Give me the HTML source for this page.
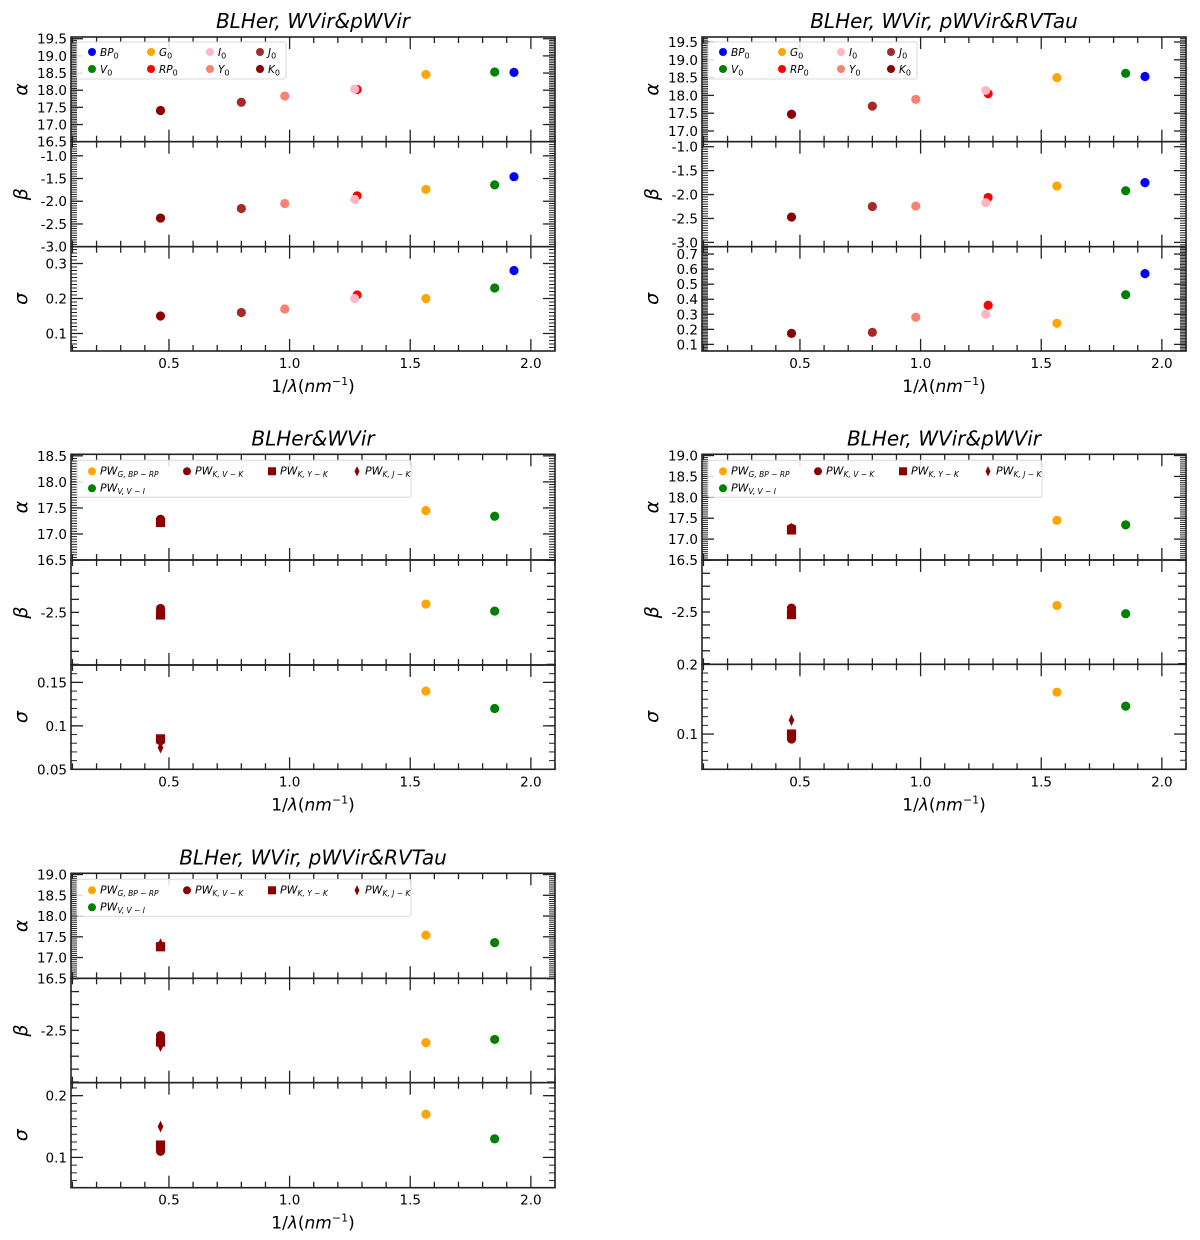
<!DOCTYPE html>
<html><head><meta charset="utf-8"><title>Fit coefficients vs inverse wavelength</title>
<style>
html,body{margin:0;padding:0;background:#fff;}
svg{display:block;font-family:"DejaVu Sans","Liberation Sans",sans-serif;}
</style></head>
<body>
<svg id="fig" width="1200" height="1240" viewBox="0 0 1200 1240" xmlns="http://www.w3.org/2000/svg"></svg>
<script>
// ---------- DATA ----------
// Panels 1 & 2: band names
const bandNames = ['BP0','V0','G0','RP0','I0','Y0','J0','K0'];
const bandX = [1.93, 1.85, 1.565, 1.28, 1.27, 0.98, 0.80, 0.465];
// Panel 1: BLHer, WVir & pWVir
const p1Alpha = [18.52, 18.53, 18.46, 18.02, 18.03, 17.83, 17.65, 17.41];
const p1Beta  = [-1.46, -1.64, -1.74, -1.88, -1.96, -2.05, -2.16, -2.37];
const p1Sigma = [0.28, 0.23, 0.20, 0.21, 0.20, 0.17, 0.16, 0.15];
// Panel 2: BLHer, WVir, pWVir & RVTau
const p2Alpha = [18.53, 18.62, 18.50, 18.05, 18.14, 17.89, 17.70, 17.47];
const p2Beta  = [-1.75, -1.92, -1.82, -2.06, -2.17, -2.24, -2.25, -2.47];
const p2Sigma = [0.57, 0.43, 0.24, 0.36, 0.30, 0.28, 0.18, 0.173];
// Panels 3-5: Wesenheit relations
const pwNames = ['PW_G,BP-RP','PW_K,V-K','PW_K,Y-K','PW_K,J-K','PW_V,V-I'];
const pwX = [1.565, 0.465, 0.465, 0.465, 1.85];
// Panel 3: BLHer & WVir
const p3Alpha = [17.45, 17.28, 17.22, 17.26, 17.34];
const p3Beta  = [-2.436, -2.47, -2.52, -2.50, -2.49];
const p3Sigma = [0.14, 0.083, 0.085, 0.075, 0.12];
// Panel 4: BLHer, WVir & pWVir
const p4Alpha = [17.45, 17.26, 17.22, 17.25, 17.34];
const p4Beta  = [-2.449, -2.47, -2.52, -2.51, -2.513];
const p4Sigma = [0.16, 0.093, 0.10, 0.12, 0.14];
// Panel 5: BLHer, WVir, pWVir & RVTau
const p5Alpha = [17.54, 17.28, 17.26, 17.32, 17.36];
const p5Beta  = [-2.595, -2.54, -2.59, -2.62, -2.57];
const p5Sigma = [0.17, 0.11, 0.12, 0.15, 0.13];
// Tick values / labels
const xTicks = [0.5, 1.0, 1.5, 2.0];
const xTickLabels = ['0.5','1.0','1.5','2.0'];
const aTicks1 = [16.5,17.0,17.5,18.0,18.5,19.0,19.5];
const aTicks1Labels = ['16.5','17.0','17.5','18.0','18.5','19.0','19.5'];
const bTicks1 = [-3.0,-2.5,-2.0,-1.5,-1.0];
const bTicks1Labels = ['-3.0','-2.5','-2.0','-1.5','-1.0'];
const sTicks1 = [0.1,0.2,0.3];
const sTicks1Labels = ['0.1','0.2','0.3'];
const sTicks2 = [0.1,0.2,0.3,0.4,0.5,0.6,0.7];
const sTicks2Labels = ['0.1','0.2','0.3','0.4','0.5','0.6','0.7'];
const aTicks3 = [16.5,17.0,17.5,18.0,18.5];
const aTicks3Labels = ['16.5','17.0','17.5','18.0','18.5'];
const aTicks4 = [16.5,17.0,17.5,18.0,18.5,19.0];
const aTicks4Labels = ['16.5','17.0','17.5','18.0','18.5','19.0'];
const bTicksPW = [-2.9,-2.8,-2.7,-2.6,-2.5,-2.4,-2.3,-2.2,-2.1];
const bTicksPWLabels = ['','','','','-2.5','','','',''];
const sTicks3 = [0.05,0.1,0.15];
const sTicks3Labels = ['0.05','0.1','0.15'];
const sTicks4 = [0.1,0.2];
const sTicks4Labels = ['0.1','0.2'];

// ---------- STYLE / LAYOUT ----------
const bandColors = ['#0000ff','#008000','#ffa500','#ff0000','#ffb6c1','#fa8072','#a52a2a','#8b0000'];
const bandOrderDraw = [7,6,5,3,4,2,1,0];
const pwColors = ['#ffa500','#8b0000','#8b0000','#8b0000','#008000'];
const pwMarkers = ['circle','circle','square','diamond','circle'];
const NS = 'http://www.w3.org/2000/svg';
const svg = document.getElementById('fig');
function mk(tag, attrs, parent){
  const e = document.createElementNS(NS, tag);
  for (const k in attrs) e.setAttribute(k, attrs[k]);
  (parent||svg).appendChild(e);
  return e;
}
const panels = [
  {title:'BLHer, WVir&pWVir', left:71, right:555, top:37, b1:141.7, b2:246.7, bottom:351, kind:'band',
   A:p1Alpha, B:p1Beta, S:p1Sigma,
   subs:[{lim:[16.5,19.55], t:aTicks1, l:aTicks1Labels, minor:0.05, name:'alpha'},
         {lim:[-3.0,-0.69], t:bTicks1, l:bTicks1Labels, minor:0.05, name:'beta'},
         {lim:[0.05,0.348], t:sTicks1, l:sTicks1Labels, minor:0.01, name:'sigma'}]},
  {title:'BLHer, WVir, pWVir&RVTau', left:702, right:1186, top:37, b1:141.7, b2:246.7, bottom:351, kind:'band',
   A:p2Alpha, B:p2Beta, S:p2Sigma,
   subs:[{lim:[16.70,19.64], t:aTicks1, l:aTicks1Labels, minor:0.05, name:'alpha'},
         {lim:[-3.09,-0.895], t:bTicks1, l:bTicks1Labels, minor:0.05, name:'beta'},
         {lim:[0.056,0.749], t:sTicks2, l:sTicks2Labels, minor:0.01, name:'sigma'}]},
  {title:'BLHer&WVir', left:71, right:555, top:454.3, b1:560, b2:665, bottom:769.3, kind:'pw',
   A:p3Alpha, B:p3Beta, S:p3Sigma,
   subs:[{lim:[16.5,18.53], t:aTicks3, l:aTicks3Labels, minor:0.05, name:'alpha'},
         {lim:[-2.905,-2.097], t:bTicksPW, l:bTicksPWLabels, minor:0, name:'beta'},
         {lim:[0.05,0.17], t:sTicks3, l:sTicks3Labels, minor:0.01, name:'sigma'}]},
  {title:'BLHer, WVir&pWVir', left:702, right:1186, top:454.3, b1:560, b2:664.3, bottom:769.3, kind:'pw',
   A:p4Alpha, B:p4Beta, S:p4Sigma,
   subs:[{lim:[16.5,19.03], t:aTicks4, l:aTicks4Labels, minor:0.05, name:'alpha'},
         {lim:[-2.905,-2.097], t:bTicksPW, l:bTicksPWLabels, minor:0, name:'beta'},
         {lim:[0.0495,0.2], t:sTicks4, l:sTicks4Labels, minor:0.0125, name:'sigma'}]},
  {title:'BLHer, WVir, pWVir&RVTau', left:71, right:555, top:873.3, b1:978.3, b2:1082.7, bottom:1187.7, kind:'pw',
   A:p5Alpha, B:p5Beta, S:p5Sigma,
   subs:[{lim:[16.5,19.03], t:aTicks4, l:aTicks4Labels, minor:0.05, name:'alpha'},
         {lim:[-2.905,-2.097], t:bTicksPW, l:bTicksPWLabels, minor:0, name:'beta'},
         {lim:[0.051,0.221], t:sTicks4, l:sTicks4Labels, minor:0.0125, name:'sigma'}]}
];
const XMIN = 0.094, XMAX = 2.1;
const greek = {alpha:'α', beta:'β', sigma:'σ'};

function drawMarker(g, type, cx, cy, color, r){
  let e;
  if (type === 'circle') e = mk('circle', {cx:cx, cy:cy, r:r, fill:color}, g);
  else if (type === 'square') e = mk('rect', {x:cx-r, y:cy-r, width:2*r, height:2*r, fill:color}, g);
  else e = mk('polygon', {points:`${cx},${cy-r*1.3} ${cx+r*0.62},${cy} ${cx},${cy+r*1.3} ${cx-r*0.62},${cy}`, fill:color}, g);
  return e;
}

panels.forEach((P, pi) => {
  const pg = mk('g', {});
  
  
  const xs = v => P.left + (v - XMIN) / (XMAX - XMIN) * (P.right - P.left);
  const cx = (P.left + P.right) / 2;
  const title = mk('text', {x:cx, y:P.top - 9, 'text-anchor':'middle', 'font-size':20, 'font-style':'italic', fill:'#000'}, pg);
  title.textContent = P.title;
  
  
  const bounds = [[P.top, P.b1], [P.b1, P.b2], [P.b2, P.bottom]];
  const vals = [P.A, P.B, P.S];
  P.subs.forEach((S, si) => {
    const [t, b] = bounds[si];
    const ys = v => b - (v - S.lim[0]) / (S.lim[1] - S.lim[0]) * (b - t);
    const sg = mk('g', {}, pg);
    
    
    // x ticks (top and bottom, inward)
    for (let k = 1; k <= 21; k++) {
      const v = k / 10;
      if (v < XMIN || v > XMAX) continue;
      const major = Math.abs(v*2 - Math.round(v*2)) < 1e-6;
      const len = major ? 12 : 6;
      const x = xs(v);
      mk('line', {x1:x, x2:x, y1:b, y2:b-len, stroke:'#222', 'stroke-width':1.3}, sg);
      mk('line', {x1:x, x2:x, y1:t, y2:t+len, stroke:'#222', 'stroke-width':1.3}, sg);
    }
    // y minor ticks
    if (S.minor > 0) {
      const n0 = Math.ceil(S.lim[0] / S.minor - 1e-6), n1 = Math.floor(S.lim[1] / S.minor + 1e-6);
      for (let k = n0; k <= n1; k++) {
        const y = ys(k * S.minor);
        mk('line', {x1:P.left, x2:P.left+6, y1:y, y2:y, stroke:'#222', 'stroke-width':1}, sg);
        mk('line', {x1:P.right, x2:P.right-6, y1:y, y2:y, stroke:'#222', 'stroke-width':1}, sg);
      }
    }
    // y major ticks and labels
    S.t.forEach((v, k) => {
      const y = ys(v);
      if (y < t - 0.5 || y > b + 0.5) return;
      const len = S.minor > 0 ? 12 : 8;
      mk('line', {x1:P.left, x2:P.left+len, y1:y, y2:y, stroke:'#222', 'stroke-width':1.3}, sg);
      mk('line', {x1:P.right, x2:P.right-len, y1:y, y2:y, stroke:'#222', 'stroke-width':1.3}, sg);
      if (S.l[k]) {
        const lab = mk('text', {x:P.left-4, y:y+5, 'text-anchor':'end', 'font-size':13.5, fill:'#000'}, sg);
        lab.textContent = S.l[k];
        
        
      }
    });
    // frame
    const fr = mk('rect', {x:P.left, y:t, width:P.right-P.left, height:b-t, fill:'none', stroke:'#222', 'stroke-width':1.6}, sg);
    
    
    // y label
    const yl = mk('text', {x:0, y:0, 'text-anchor':'middle', 'font-size':19, 'font-style':'italic', fill:'#000',
      transform:`translate(${P.left-44},${(t+b)/2}) rotate(-90)`}, sg);
    yl.textContent = greek[S.name];
    
    
    // points
    const arr = vals[si];
    if (P.kind === 'band') {
      bandOrderDraw.forEach(i => {
        const m = drawMarker(sg, 'circle', xs(bandX[i]), ys(arr[i]), bandColors[i], 4.6);
        
        
      });
    } else {
      arr.forEach((v, i) => {
        const m = drawMarker(sg, pwMarkers[i], xs(pwX[i]), ys(v), pwColors[i], 4.6);
        
        
      });
    }
  });
  // x tick labels
  xTicks.forEach((v, k) => {
    const lab = mk('text', {x:xs(v), y:P.bottom+17, 'text-anchor':'middle', 'font-size':13.5, fill:'#000'}, pg);
    lab.textContent = xTickLabels[k];
    
    
  });
  // x label
  const xl = mk('text', {x:cx, y:P.bottom+41, 'text-anchor':'middle', 'font-size':17, fill:'#000'}, pg);
  xl.innerHTML = '1/<tspan font-style="italic">λ</tspan>(<tspan font-style="italic">nm</tspan><tspan font-size="11" dy="-7">−1</tspan><tspan dy="7">)</tspan>';
  
  
  // legend
  const lg = mk('g', {}, pg);
  
  
  const L = P.left, T = P.top;
  if (P.kind === 'band') {
    const box = mk('rect', {x:L+6, y:T+5, width:209, height:37, rx:2, fill:'#fff', 'fill-opacity':0.85, stroke:'#d8d8d8', 'stroke-width':1}, lg);
    
    
    const colX = [21, 80, 139, 189];
    const items = [[0,0,0,'BP'],[1,0,1,'V'],[2,1,0,'G'],[3,1,1,'RP'],[4,2,0,'I'],[5,2,1,'Y'],[6,3,0,'J'],[7,3,1,'K']];
    items.forEach(it => {
      const ex = L + colX[it[1]], ey = T + 15 + it[2]*17;
      const ent = mk('g', {}, lg);
      
      
      drawMarker(ent, 'circle', ex, ey, bandColors[it[0]], 4);
      const tx = mk('text', {x:ex+8, y:ey+4, 'font-size':10.5, 'font-style':'italic', fill:'#000'}, ent);
      tx.innerHTML = it[3] + '<tspan font-size="8" font-style="normal" dy="2.5">0</tspan>';
    });
  } else {
    const box = mk('rect', {x:L+6, y:T+6, width:334, height:37, rx:2, fill:'#fff', 'fill-opacity':0.85, stroke:'#d8d8d8', 'stroke-width':1}, lg);
    
    
    const colX = [21, 116, 201, 286];
    const subs = ['G, BP − RP','K, V − K','K, Y − K','K, J − K','V, V − I'];
    const pos = [[0,0],[1,0],[2,0],[3,0],[0,1]];
    pos.forEach((p, i) => {
      const ex = L + colX[p[0]], ey = T + 17 + p[1]*17;
      const ent = mk('g', {}, lg);
      
      
      drawMarker(ent, pwMarkers[i], ex, ey, pwColors[i], 4);
      const tx = mk('text', {x:ex+8, y:ey+3, 'font-size':11, 'font-style':'italic', fill:'#000'}, ent);
      tx.innerHTML = 'PW<tspan font-size="7.5" dy="2.5">' + subs[i] + '</tspan>';
    });
  }
});
</script>
</body></html>
